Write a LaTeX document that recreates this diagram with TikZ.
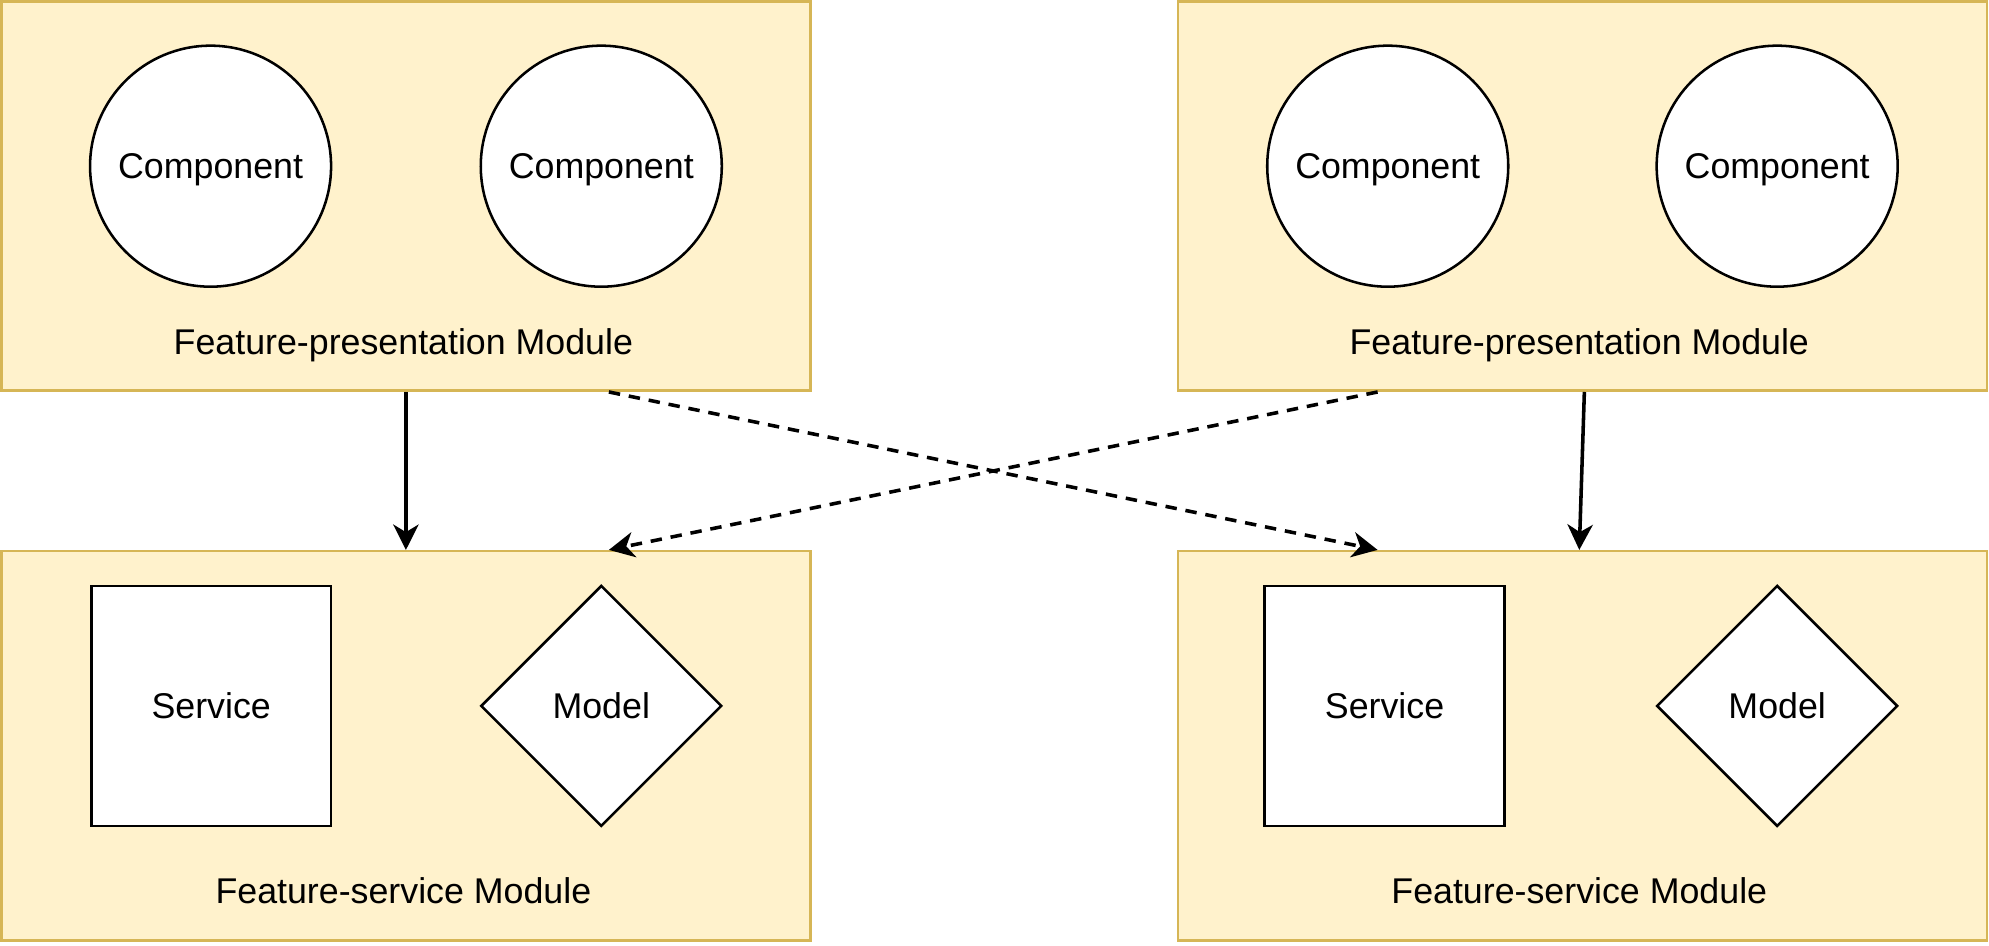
\documentclass[tikz,border=0pt]{standalone}
\usepackage{fontspec}
\setmainfont{Liberation Sans}
\usetikzlibrary{shapes.geometric,arrows.meta}
\definecolor{modfill}{HTML}{FFF2CC}
\definecolor{moddraw}{HTML}{D6B656}
\begin{document}
\begin{tikzpicture}[x=1pt,y=-1pt,
  every node/.style={font=\fontsize{28.2}{34}\selectfont, inner sep=0pt},
  module/.style={rectangle, draw=moddraw, fill=modfill, line width=2pt, minimum width=638pt, minimum height=307pt},
  comp/.style={circle, draw=black, fill=white, line width=2pt, minimum size=190pt, text height=20.2pt, text depth=0pt},
  svc/.style={rectangle, draw=black, fill=white, line width=2pt, minimum size=189pt},
  mdl/.style={diamond, aspect=1, draw=black, fill=white, line width=2pt, minimum width=190pt, minimum height=190pt},
  conn/.style={line width=2.8pt, -{Stealth[length=20pt,width=20pt,inset=6pt]}},
  dconn/.style={conn, dash pattern=on 9pt off 7pt}
]
\useasboundingbox (0,0) rectangle (1568,745);
% modules
\node[module] (tl) at (320,154.5) {};
\node[module] (tr) at (1247.5,154.5) {};
\node[module] (bl) at (320,588) {};
\node[module] (br) at (1247.5,588) {};
% components
\node[comp] (c1) at (166,131) {Component};
\node[comp] (c2) at (474,131) {Component};
\node[comp] (c3) at (1094,131) {Component};
\node[comp] (c4) at (1401,131) {Component};
\node (tll) at (318,272) {Feature-presentation Module};
\node (trl) at (1245,272) {Feature-presentation Module};
% services and models
\node[svc] (s1) at (166.5,556.5) {Service};
\node[mdl] (m1) at (474,556.5) {Model};
\node[svc] (s2) at (1091.5,556.5) {Service};
\node[mdl] (m2) at (1401,556.5) {Model};
\node (bll) at (318,702) {Feature-service Module};
\node (brl) at (1245,702) {Feature-service Module};
% connectors
\draw[conn] (tl.south) -- (bl.north);
\draw[conn] ([xshift=1.5pt]tr.south) -- ([xshift=-2.5pt]br.north);
\draw[dconn] ([xshift=160pt]tl.south) -- ([xshift=-161.5pt]br.north);
\draw[dconn] ([xshift=-161.5pt]tr.south) -- ([xshift=160pt]bl.north);
\end{tikzpicture}
\end{document}
